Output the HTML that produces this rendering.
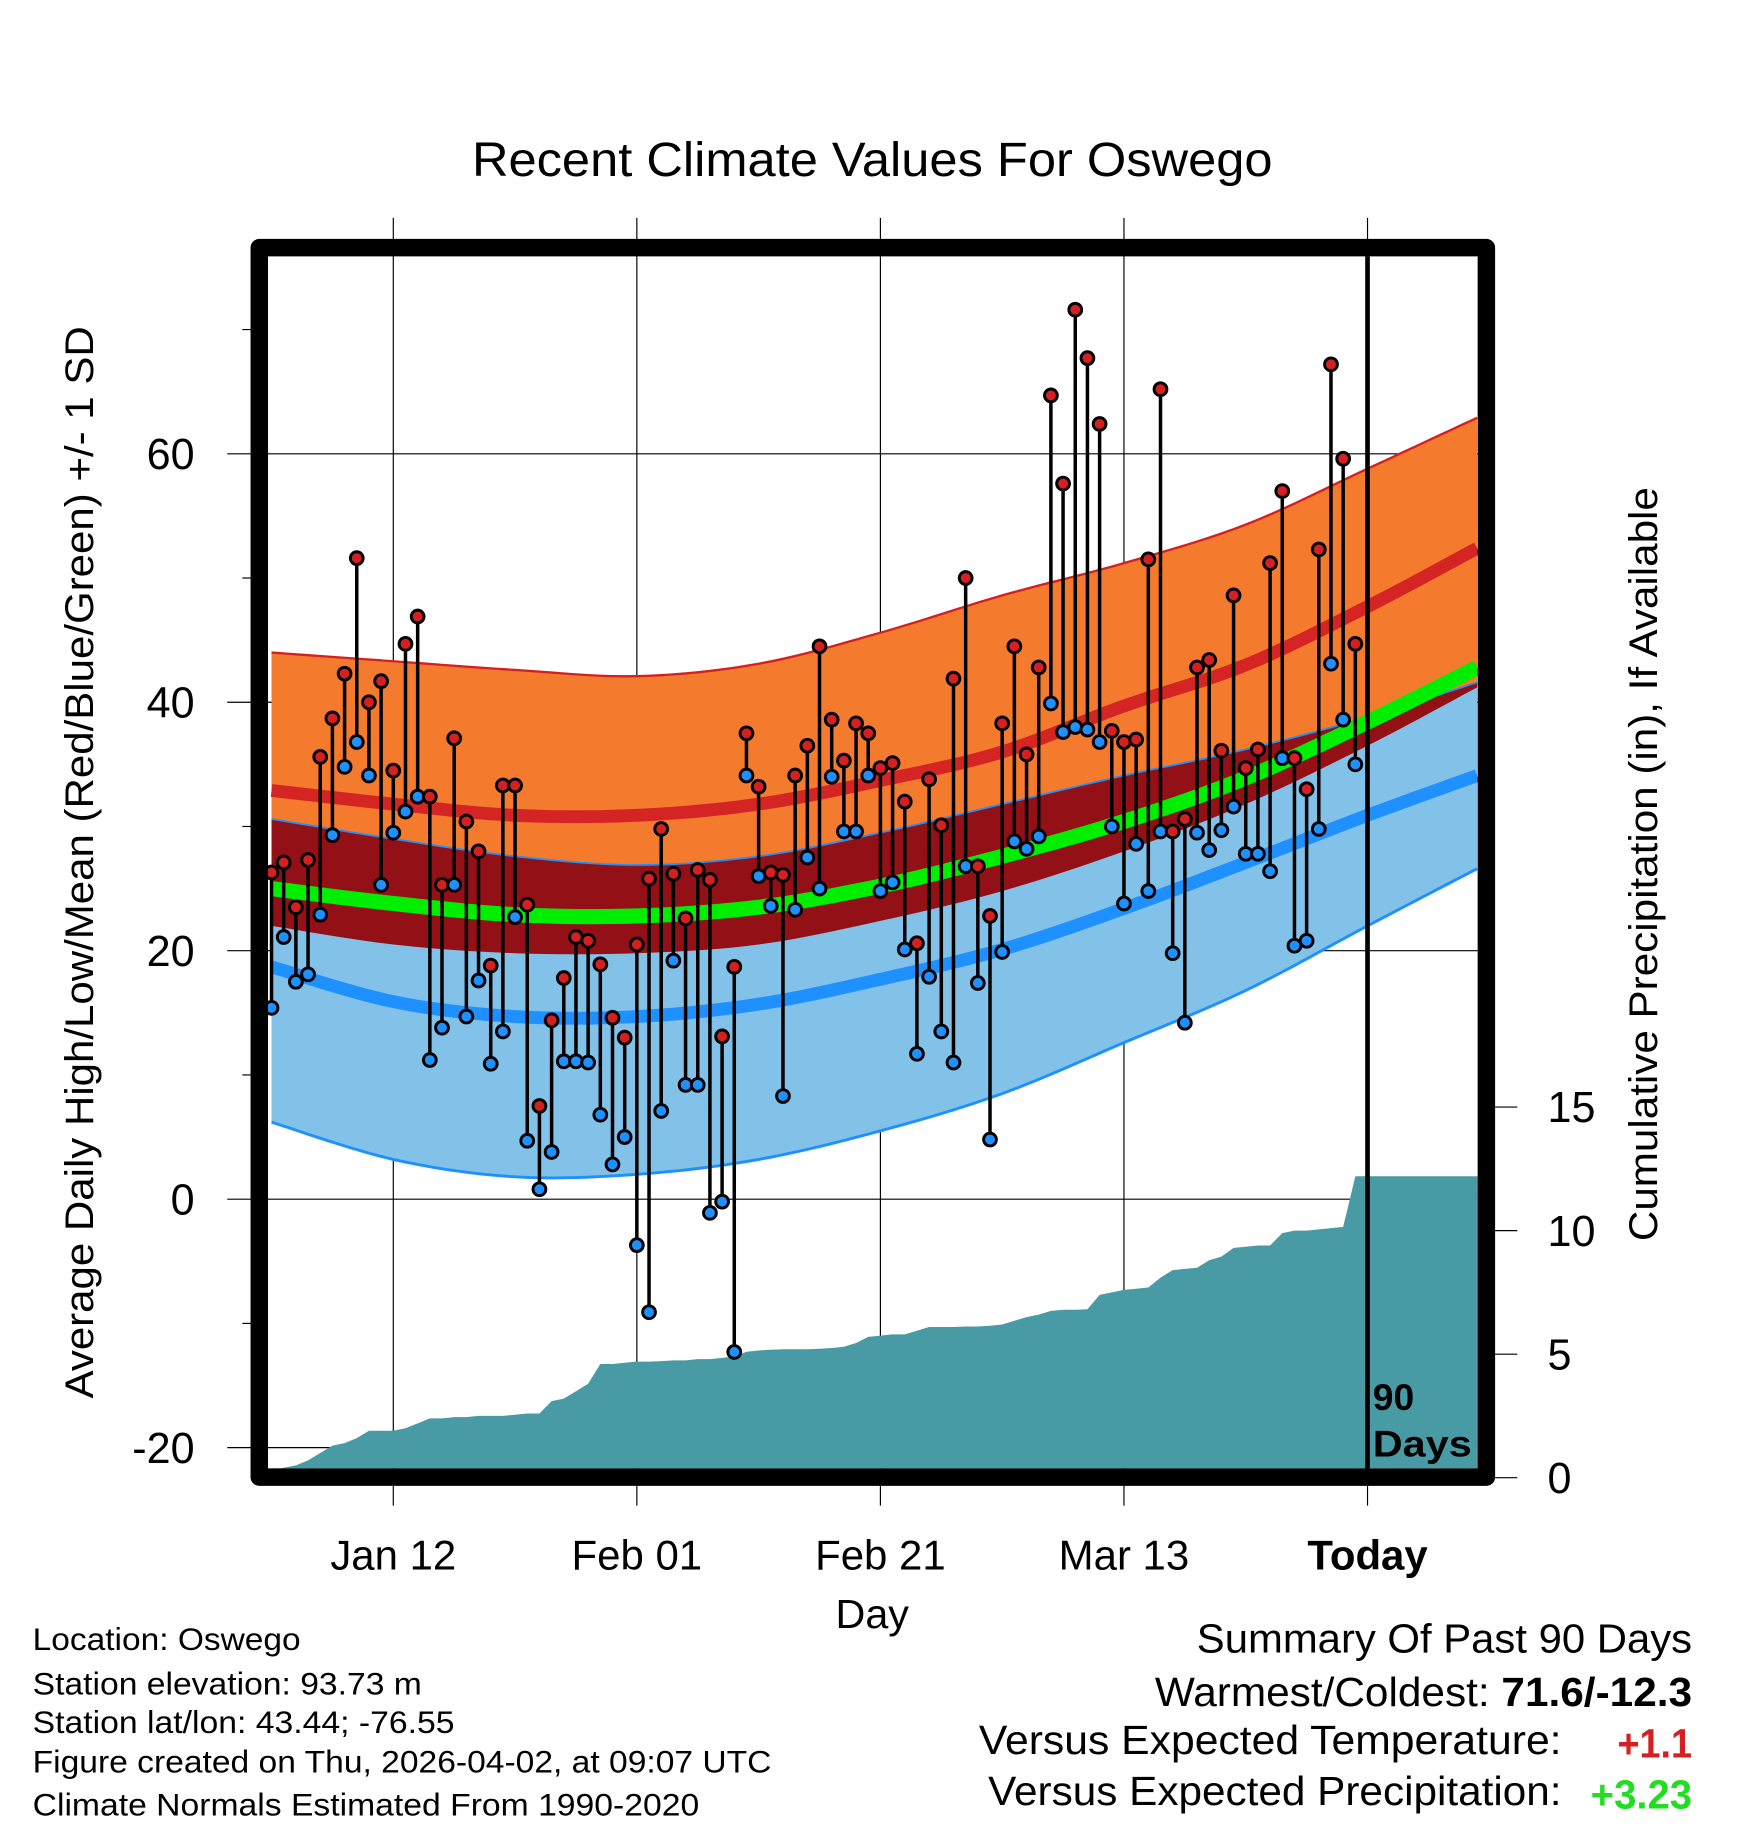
<!DOCTYPE html>
<html><head><meta charset="utf-8"><style>html,body{margin:0;padding:0;background:#fff}svg{display:block}text{font-family:"Liberation Sans",sans-serif}</style></head>
<body>
<svg id="chart" xmlns="http://www.w3.org/2000/svg" width="1748" height="1828" viewBox="0 0 1500 1568.6" preserveAspectRatio="none">
<text x="405" y="151" font-size="41" textLength="687" lengthAdjust="spacingAndGlyphs">Recent Climate Values For Oswego</text>
<g id="grid"></g>
<g id="bands"></g>
<g id="precip"></g>
<g id="marks"></g>
<g id="axes"></g>
<text transform="translate(80,1200) rotate(-90)" font-size="34" textLength="920" lengthAdjust="spacingAndGlyphs">Average Daily High/Low/Mean (Red/Blue/Green) +/- 1 SD</text>
<text transform="translate(1422,1065) rotate(-90)" font-size="34" textLength="647" lengthAdjust="spacingAndGlyphs">Cumulative Precipitation (in), If Available</text>
<text x="717" y="1397" font-size="35" textLength="63" lengthAdjust="spacingAndGlyphs">Day</text>
<text x="1178" y="1210" font-size="32" font-weight="bold">90</text>
<text x="1178" y="1250" font-size="32" font-weight="bold" textLength="85" lengthAdjust="spacingAndGlyphs">Days</text>
<g font-size="27" lengthAdjust="spacingAndGlyphs">
<text x="28" y="1416" textLength="230" lengthAdjust="spacingAndGlyphs">Location: Oswego</text>
<text x="28" y="1454" textLength="334" lengthAdjust="spacingAndGlyphs">Station elevation: 93.73 m</text>
<text x="28" y="1487" textLength="362" lengthAdjust="spacingAndGlyphs">Station lat/lon: 43.44; -76.55</text>
<text x="28" y="1521" textLength="634" lengthAdjust="spacingAndGlyphs">Figure created on Thu, 2026-04-02, at 09:07 UTC</text>
<text x="28" y="1558" textLength="572" lengthAdjust="spacingAndGlyphs">Climate Normals Estimated From 1990-2020</text>
</g>
<g font-size="35">
<text x="1027" y="1418" textLength="425" lengthAdjust="spacingAndGlyphs">Summary Of Past 90 Days</text>
<text x="991" y="1464" textLength="461" lengthAdjust="spacingAndGlyphs">Warmest/Coldest: <tspan font-weight="bold">71.6/-12.3</tspan></text>
<text x="840" y="1505" textLength="500" lengthAdjust="spacingAndGlyphs">Versus Expected Temperature:</text>
<text x="1388" y="1508" font-weight="bold" fill="#d42020" textLength="64" lengthAdjust="spacingAndGlyphs">+1.1</text>
<text x="848" y="1549" textLength="492" lengthAdjust="spacingAndGlyphs">Versus Expected Precipitation:</text>
<text x="1365" y="1552" font-weight="bold" fill="#22dd22" textLength="87" lengthAdjust="spacingAndGlyphs">+3.23</text>
</g>
</svg>
<script>
const highs=[26.3,27.1,23.5,27.3,35.6,38.7,42.3,51.6,40.0,41.7,34.5,44.7,46.9,32.4,25.3,37.1,30.4,28.0,18.8,33.3,33.3,23.7,7.5,14.4,17.8,21.1,20.8,18.9,14.6,13.0,20.5,25.8,29.8,26.2,22.6,26.5,25.7,13.1,18.7,37.5,33.2,26.3,26.1,34.1,36.5,44.5,38.6,35.3,38.3,37.5,34.7,35.1,32.0,20.6,33.8,30.1,41.9,50.0,26.8,22.8,38.3,44.5,35.8,42.8,64.7,57.6,71.6,67.7,62.4,37.7,36.8,37.0,51.5,65.2,29.6,30.6,42.8,43.4,36.1,48.6,34.7,36.2,51.2,57.0,35.5,33.0,52.3,67.2,59.6,44.7];
const lows=[15.4,21.1,17.5,18.1,22.9,29.3,34.8,36.8,34.1,25.3,29.5,31.2,32.4,11.2,13.8,25.3,14.7,17.6,10.9,13.5,22.7,4.7,0.8,3.8,11.1,11.1,11.0,6.8,2.8,5.0,-3.7,-9.1,7.1,19.2,9.2,9.2,-1.1,-0.2,-12.3,34.1,26.0,23.6,8.3,23.3,27.5,25.0,34.0,29.6,29.6,34.1,24.8,25.5,20.1,11.7,17.9,13.5,11.0,26.8,17.4,4.8,19.9,28.8,28.2,29.2,39.9,37.6,38.0,37.8,36.8,30.0,23.8,28.6,24.8,29.6,19.8,14.2,29.5,28.1,29.7,31.6,27.8,27.8,26.4,35.5,20.4,20.8,29.8,43.1,38.6,35.0];
const normDays=[0,10,20,30,40,50,60,70,80,90,99];
const highPlusSD=[44.0,43.3,42.6,42.1,43.1,45.6,48.6,51.2,54.3,58.8,62.9];
const meanHigh=[32.9,31.8,30.9,30.9,31.8,33.7,36.0,39.7,43.0,47.7,52.4];
const lowPlusSD=[30.6,29.0,27.6,26.9,27.6,29.5,31.8,34.1,36.2,38.8,41.6];
const meanTemp=[25.0,23.8,22.9,22.8,23.5,25.2,27.6,30.4,33.9,38.4,42.8];
const highMinusSD=[22.0,20.5,19.8,19.8,20.5,22.4,24.8,28.0,31.8,36.5,41.2];
const meanLow=[18.7,15.9,14.7,14.7,15.7,17.7,20.1,23.4,27.1,30.9,34.1];
const lowMinusSD=[6.2,3.2,1.8,2.0,3.2,5.5,8.5,12.6,16.8,22.0,26.6];
const precip=[0.3,0.4,0.5,0.7,1.0,1.3,1.4,1.6,1.9,1.9,1.9,2.0,2.2,2.4,2.4,2.45,2.45,2.5,2.5,2.5,2.55,2.6,2.6,3.1,3.2,3.5,3.8,4.6,4.6,4.65,4.7,4.7,4.72,4.75,4.75,4.8,4.8,4.85,4.9,5.1,5.15,5.18,5.2,5.2,5.2,5.22,5.25,5.3,5.45,5.7,5.75,5.8,5.8,5.95,6.1,6.1,6.1,6.12,6.12,6.15,6.2,6.35,6.5,6.6,6.75,6.8,6.8,6.82,7.4,7.5,7.6,7.65,7.7,8.1,8.4,8.45,8.5,8.8,8.95,9.3,9.35,9.4,9.4,9.9,10.0,10.0,10.05,10.1,10.15,12.2,12.2,12.2,12.2,12.2,12.2,12.2,12.2,12.2,12.2,12.2];
const xTickLabels=["Jan 12","Feb 01","Feb 21","Mar 13","Today"];
const xTickDays=[10,30,50,70,90];
const yTicks=[-20,0,20,40,60];
const y2Ticks=[0,5,10,15];

const NS="http://www.w3.org/2000/svg";
const PL=230,PR=1268,PT=220,PB=1260;
const x=d=>233+d*10.45;
const y=v=>1029-v*10.66;
const y2=p=>1268-p*21.2;
function mk(tag,attrs,parent){const e=document.createElementNS(NS,tag);for(const k in attrs)e.setAttribute(k,attrs[k]);parent.appendChild(e);return e;}
const grid=document.getElementById('grid'),bands=document.getElementById('bands'),pg=document.getElementById('precip'),marks=document.getElementById('marks'),axes=document.getElementById('axes');

for(let v=-10;v<=70;v+=10){
  const major=yTicks.includes(v);
  const l=mk('line',{x1:major?195:208,x2:major?PR:215,y1:y(v),y2:y(v),stroke:'#000','stroke-width':1},grid);
  
  
}
{
  const l=mk('line',{x1:195,x2:PR,y1:y(-20),y2:y(-20),stroke:'#000','stroke-width':1},grid);
}
xTickDays.forEach((d,i)=>{
  const l=mk('line',{x1:x(d),x2:x(d),y1:187,y2:1292,stroke:'#000','stroke-width':1},grid);
  
  
  const t=mk('text',{x:x(d),y:1347,'font-size':36,'text-anchor':'middle'},axes);
  if(i===4)t.setAttribute('font-weight','bold');
  t.textContent=xTickLabels[i];
  
  
});
yTicks.forEach(v=>{
  const t=mk('text',{x:167,y:y(v)+13,'font-size':37,'text-anchor':'end'},axes);
  t.textContent=v;
  
  
});
y2Ticks.forEach(p=>{
  mk('line',{x1:1283,x2:1302,y1:y2(p),y2:y2(p),stroke:'#000','stroke-width':1},axes);
  const t=mk('text',{x:1328,y:y2(p)+13,'font-size':37},axes);
  t.textContent=p;
  
  
});

// smooth curve via Catmull-Rom through normal points
function pts(arr){
  const P=normDays.map((d,i)=>[x(d),y(arr[i])]);
  const out=[];
  for(let i=0;i<P.length-1;i++){
    const p0=P[Math.max(0,i-1)],p1=P[i],p2=P[i+1],p3=P[Math.min(P.length-1,i+2)];
    for(let s=0;s<10;s++){
      const t=s/10,t2=t*t,t3=t2*t;
      const f=(a,b,c,d)=>0.5*(2*b+(-a+c)*t+(2*a-5*b+4*c-d)*t2+(-a+3*b-3*c+d)*t3);
      out.push([f(p0[0],p1[0],p2[0],p3[0]),f(p0[1],p1[1],p2[1],p3[1])]);
    }
  }
  out.push(P[P.length-1]);
  return out.map(q=>[Math.max(PL,Math.min(PR,q[0])),q[1]]);
}
function band(top,bot,fill,name){
  const a=pts(top),b=pts(bot).reverse();
  const p=mk('polygon',{points:a.concat(b).map(q=>q.join(',')).join(' '),fill:fill},bands);
  
  
}
function line(arr,stroke,w,name){
  const p=mk('polyline',{points:pts(arr).map(q=>q.join(',')).join(' '),fill:'none',stroke:stroke,'stroke-width':w},bands);
  
  
}
band(highPlusSD,lowPlusSD,'#f47b2e','high-sd-band');
band(lowPlusSD,lowMinusSD,'#82c1e8','low-sd-band');
band(lowPlusSD,highMinusSD,'#921016','overlap-band');
line(highPlusSD,'#d42020',2,'high-plus-sd-line');
line(lowPlusSD,'#1e90ff',1.5,'low-plus-sd-line');
line(lowMinusSD,'#1e90ff',2.5,'low-minus-sd-line');
line(meanHigh,'#d42424',11,'mean-high-line');
line(meanLow,'#1e90ff',11,'mean-low-line');
line(meanTemp,'#00ee00',13,'mean-temp-line');

{
  const p=[[x(0),PB]];
  precip.forEach((v,i)=>p.push([Math.min(PR,x(i)),y2(v)]));
  p.push([PR,y2(precip[precip.length-1])]);p.push([PR,PB]);
  const poly=mk('polygon',{points:p.map(q=>q.join(',')).join(' '),fill:'#489ba4'},pg);
  
  
}

highs.forEach((h,i)=>{
  const st=mk('line',{x1:x(i),x2:x(i),y1:y(h),y2:y(lows[i]),stroke:'#000','stroke-width':3},marks);
  
  
});
highs.forEach((h,i)=>{
  const c1=mk('circle',{cx:x(i),cy:y(lows[i]),r:5.5,fill:'#1e90ff',stroke:'#000','stroke-width':2.5},marks);
  
  
  const c2=mk('circle',{cx:x(i),cy:y(h),r:5.5,fill:'#d42020',stroke:'#000','stroke-width':2.5},marks);
  
  
});

{
  const t=mk('line',{x1:x(90),x2:x(90),y1:PT,y2:PB,stroke:'#000','stroke-width':4},axes);
  
  
  const f=mk('rect',{x:222.5,y:212.5,width:1053,height:1055,fill:'none',stroke:'#000','stroke-width':15,'stroke-linejoin':'round'},axes);
  
  
}
</script>
</body></html>
